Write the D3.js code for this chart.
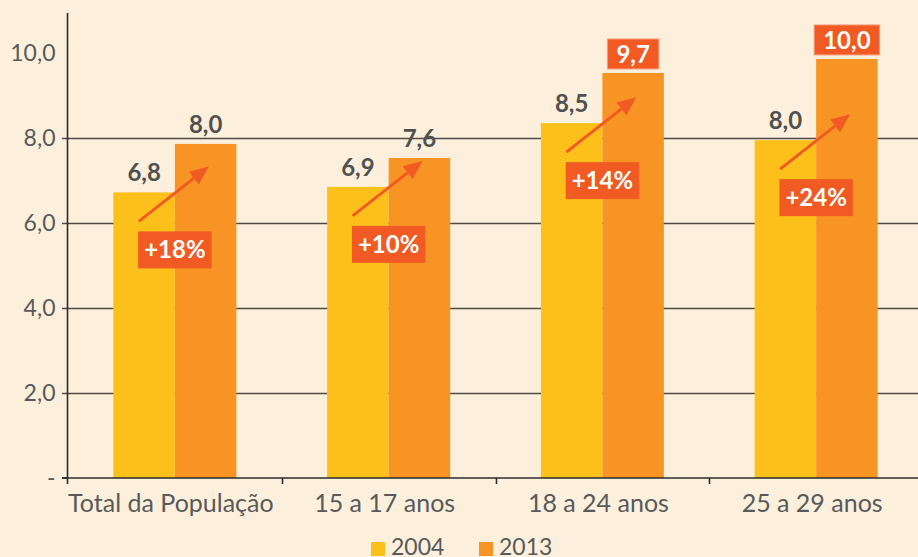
<!DOCTYPE html>
<html>
<head>
<meta charset="utf-8">
<script src="https://cdn.jsdelivr.net/npm/d3@7"></script>
<style>
  html, body { margin: 0; padding: 0; background: #fcf0dc; }
  svg { display: block; }
  text { font-family: Lato, "Open Sans", sans-serif; }
</style>
</head>
<body>
<script>
// data
const categories = ["Total da População", "15 a 17 anos", "18 a 24 anos", "25 a 29 anos"];
const years = ["2004", "2013"];
const values2004 = [6.72, 6.85, 8.35, 7.95];
const values2013 = [7.86, 7.53, 9.53, 9.86];
const labels2004 = ["6,8", "6,9", "8,5", "8,0"];
const labels2013 = ["8,0", "7,6", "9,7", "10,0"];
const boxed2013 = [false, false, true, true];
const growth = ["+18%", "+10%", "+14%", "+24%"];
const yTicks = [0, 2, 4, 6, 8, 10];

const w = 918, h = 557;
const colors = { "2004": "#fdc01b", "2013": "#f79423" };
const accent = "#f15a22";
const textGray = "#595959";

const svg = d3.select("body").append("svg")
  .attr("width", w).attr("height", h);

svg.append("rect").attr("width", w).attr("height", h).attr("fill", "#fcf0dc");

const y = d3.scaleLinear().domain([0, 11]).range([478, 10.5]);
const x = d3.scaleBand().domain(categories).range([68, 923]).padding(0);
const xs = d3.scaleBand().domain(years).range([0, x.bandwidth()])
  .paddingInner(0).paddingOuter(0.738);

// gridlines (no line at 10)
svg.append("g")
  .selectAll("line")
  .data(yTicks.filter(d => d > 0 && d < 10))
  .enter().append("line")
  .attr("x1", 62).attr("x2", w)
  .attr("y1", d => Math.round(y(d)) + 0.5)
  .attr("y2", d => Math.round(y(d)) + 0.5)
  .attr("stroke", "#4f4a45")
  .attr("stroke-width", 1.6);

// bars
const rows = categories.map((c, i) => ({
  cat: c, i: i,
  bars: [
    { year: "2004", v: values2004[i] },
    { year: "2013", v: values2013[i] }
  ]
}));

const groups = svg.append("g").selectAll("g")
  .data(rows).enter().append("g")
  .attr("transform", d => "translate(" + x(d.cat) + ",0)");

groups.selectAll("rect")
  .data(d => d.bars).enter().append("rect")
  .attr("x", d => xs(d.year))
  .attr("width", xs.bandwidth())
  .attr("y", d => y(d.v))
  .attr("height", d => y(0) - y(d.v))
  .attr("fill", d => colors[d.year]);

// y axis
const yAxis = svg.append("g")
  .attr("transform", "translate(67.5,0)")
  .call(d3.axisLeft(y)
    .tickValues(yTicks)
    .tickSize(0)
    .tickPadding(12)
    .tickFormat(d => d === 0 ? "-" : d3.format(".1f")(d).replace(".", ",")));
yAxis.select(".domain").remove();
yAxis.selectAll("text")
  .attr("fill", textGray)
  .style("font-size", "23px");

svg.append("line")
  .attr("x1", 67.5).attr("x2", 67.5)
  .attr("y1", 13).attr("y2", 484)
  .attr("stroke", "#2b2b2b").attr("stroke-width", 1.6);

// tick on 0
svg.append("line")
  .attr("x1", 62).attr("x2", 68)
  .attr("y1", y(0)).attr("y2", y(0))
  .attr("stroke", "#2b2b2b").attr("stroke-width", 1.6);

// x axis baseline
svg.append("line")
  .attr("x1", 62).attr("x2", w)
  .attr("y1", y(0)).attr("y2", y(0))
  .attr("stroke", "#2b2b2b").attr("stroke-width", 1.6);

// category boundary ticks
svg.append("g").selectAll("line")
  .data(categories.slice(1)).enter().append("line")
  .attr("x1", d => Math.round(x(d)) + 0.5)
  .attr("x2", d => Math.round(x(d)) + 0.5)
  .attr("y1", y(0)).attr("y2", y(0) + 6)
  .attr("stroke", "#2b2b2b").attr("stroke-width", 1.6);

// category labels
const xAxis = svg.append("g")
  .attr("transform", "translate(0," + y(0) + ")")
  .call(d3.axisBottom(x).tickSize(0).tickPadding(16));
xAxis.select(".domain").remove();
xAxis.selectAll("text")
  .attr("fill", textGray)
  .style("font-size", "25px")
  .attr("dx", "-4");

// value labels
groups.each(function (d) {
  const g = d3.select(this);
  const cx04 = xs("2004") + xs.bandwidth() / 2;
  const cx13 = xs("2013") + xs.bandwidth() / 2;

  g.append("text")
    .attr("x", cx04).attr("y", y(values2004[d.i]) - 11)
    .attr("text-anchor", "middle")
    .attr("fill", "#505050")
    .attr("font-weight", "bold")
    .style("font-size", "24px")
    .text(labels2004[d.i]);

  if (boxed2013[d.i]) {
    const t = g.append("text")
      .attr("x", cx13).attr("y", y(values2013[d.i]) - 10)
      .attr("text-anchor", "middle")
      .attr("fill", "#fff")
      .attr("font-weight", "bold")
      .style("font-size", "24px")
      .text(labels2013[d.i]);
    const bb = t.node().getBBox();
    g.insert("rect", "text")
      .attr("x", cx13 - bb.width / 2 - 9)
      .attr("width", bb.width + 18)
      .attr("y", y(values2013[d.i]) - 34)
      .attr("height", 30)
      .attr("fill", accent)
      .attr("stroke", "#f7a07c")
      .attr("stroke-width", 1);
  } else {
    g.append("text")
      .attr("x", cx13).attr("y", y(values2013[d.i]) - 11)
      .attr("text-anchor", "middle")
      .attr("fill", "#505050")
      .attr("font-weight", "bold")
      .style("font-size", "24px")
      .text(labels2013[d.i]);
  }

  // growth arrow
  const mid = xs("2013");
  const x0 = mid - 36, y0 = y(values2004[d.i]) + 29;
  const x1 = mid + 34, y1 = y0 - 55;
  const ang = Math.atan2(y1 - y0, x1 - x0);
  const headLen = 19, headW = 8;
  const bx = x1 - headLen * Math.cos(ang), by = y1 - headLen * Math.sin(ang);
  g.append("line")
    .attr("x1", x0).attr("y1", y0)
    .attr("x2", bx).attr("y2", by)
    .attr("stroke", accent).attr("stroke-width", 3);
  g.append("path")
    .attr("d", d3.line()([
      [x1, y1],
      [bx + headW * Math.sin(ang), by - headW * Math.cos(ang)],
      [bx - headW * Math.sin(ang), by + headW * Math.cos(ang)]
    ]) + "Z")
    .attr("fill", accent);

  // growth box
  const gt = g.append("text")
    .attr("x", mid).attr("y", y0 + 10 + 27)
    .attr("text-anchor", "middle")
    .attr("fill", "#fff")
    .attr("font-weight", "bold")
    .style("font-size", "24px")
    .text(growth[d.i]);
  const gb = gt.node().getBBox();
  g.insert("rect", function () { return gt.node(); })
    .attr("x", mid - gb.width / 2 - 6)
    .attr("width", gb.width + 12)
    .attr("y", y0 + 10)
    .attr("height", 37)
    .attr("fill", accent);
});

// legend
const legend = svg.append("g").attr("transform", "translate(371,0)");
const items = legend.selectAll("g").data(years).enter().append("g")
  .attr("transform", (d, i) => "translate(" + i * 108 + ",0)");
items.append("rect")
  .attr("x", 0).attr("y", 542)
  .attr("width", 14).attr("height", 14)
  .attr("fill", d => colors[d]);
items.append("text")
  .attr("x", 20).attr("y", 555)
  .attr("fill", textGray)
  .style("font-size", "23px")
  .text(d => d);
</script>
</body>
</html>
